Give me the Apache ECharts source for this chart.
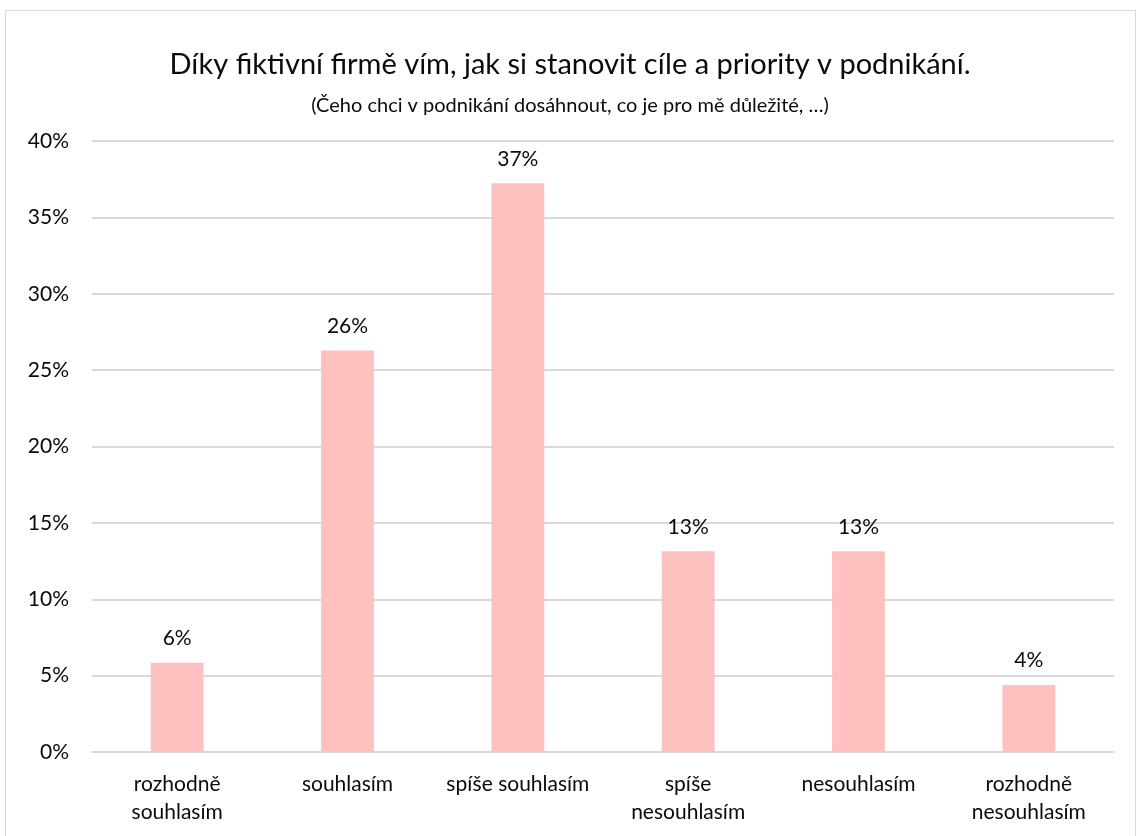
<!DOCTYPE html>
<html>
<head>
<meta charset="utf-8">
<script src="https://cdn.jsdelivr.net/npm/echarts@6/dist/echarts.min.js"></script>
<style>
  html, body { margin: 0; padding: 0; background: #fff; }
  #wrap { position: absolute; left: 5px; top: 10px; width: 1131px; height: 840px; border: 1px solid #d9d9d9; box-sizing: border-box; }
  #chart { width: 1140px; height: 836px; position: absolute; left: 0; top: 0; }
</style>
</head>
<body>
<div id="wrap"></div>
<div id="chart"></div>
<script>
const categories = ['rozhodně\nsouhlasím', 'souhlasím', 'spíše souhlasím', 'spíše\nnesouhlasím', 'nesouhlasím', 'rozhodně\nnesouhlasím']
const values = [5.84, 26.28, 37.23, 13.14, 13.14, 4.38]
const titleText = 'Díky fiktivní firmě vím, jak si stanovit cíle a priority v podnikání.'
const subtitleText = '(Čeho chci v podnikání dosáhnout, co je pro mě důležité, …)'

const font = 'Lato, "Open Sans", sans-serif'
const textColor = '#0a0a0a'
const barColor = '#ffc0c0'
const gridColor = '#d9d9d9'

const chart = echarts.init(document.getElementById('chart'), null, { renderer: 'canvas' })
chart.setOption({
  backgroundColor: 'transparent',
  animation: false,
  title: [
    {
      text: titleText,
      left: 'center',
      top: 45,
      textStyle: { fontFamily: font, fontSize: 29, fontWeight: 'normal', color: textColor }
    },
    {
      text: subtitleText,
      left: 'center',
      top: 91,
      textStyle: { fontFamily: font, fontSize: 20, fontWeight: 'normal', color: textColor }
    }
  ],
  grid: { left: 92, right: 26, top: 141, bottom: 84, containLabel: false },
  xAxis: {
    type: 'category',
    data: categories,
    axisLine: { show: true, lineStyle: { color: gridColor, width: 2 } },
    axisTick: { show: false },
    axisLabel: { color: textColor, fontFamily: font, fontSize: 21, lineHeight: 28, margin: 18, interval: 0 }
  },
  yAxis: {
    type: 'value',
    min: 0,
    max: 40,
    interval: 5,
    axisLine: { show: false },
    axisTick: { show: false },
    axisLabel: { color: textColor, fontFamily: font, fontSize: 21, margin: 23, formatter: (v) => v + '%' },
    splitLine: { lineStyle: { color: gridColor, width: 2 } }
  },
  series: [
    {
      type: 'bar',
      data: values,
      barWidth: '31%',
      itemStyle: { color: barColor },
      label: {
        show: true,
        position: 'top',
        distance: 14,
        color: textColor,
        fontFamily: font,
        fontSize: 21,
        formatter: (p) => Math.round(p.value) + '%'
      }
    }
  ]
})
</script>
</body>
</html>
